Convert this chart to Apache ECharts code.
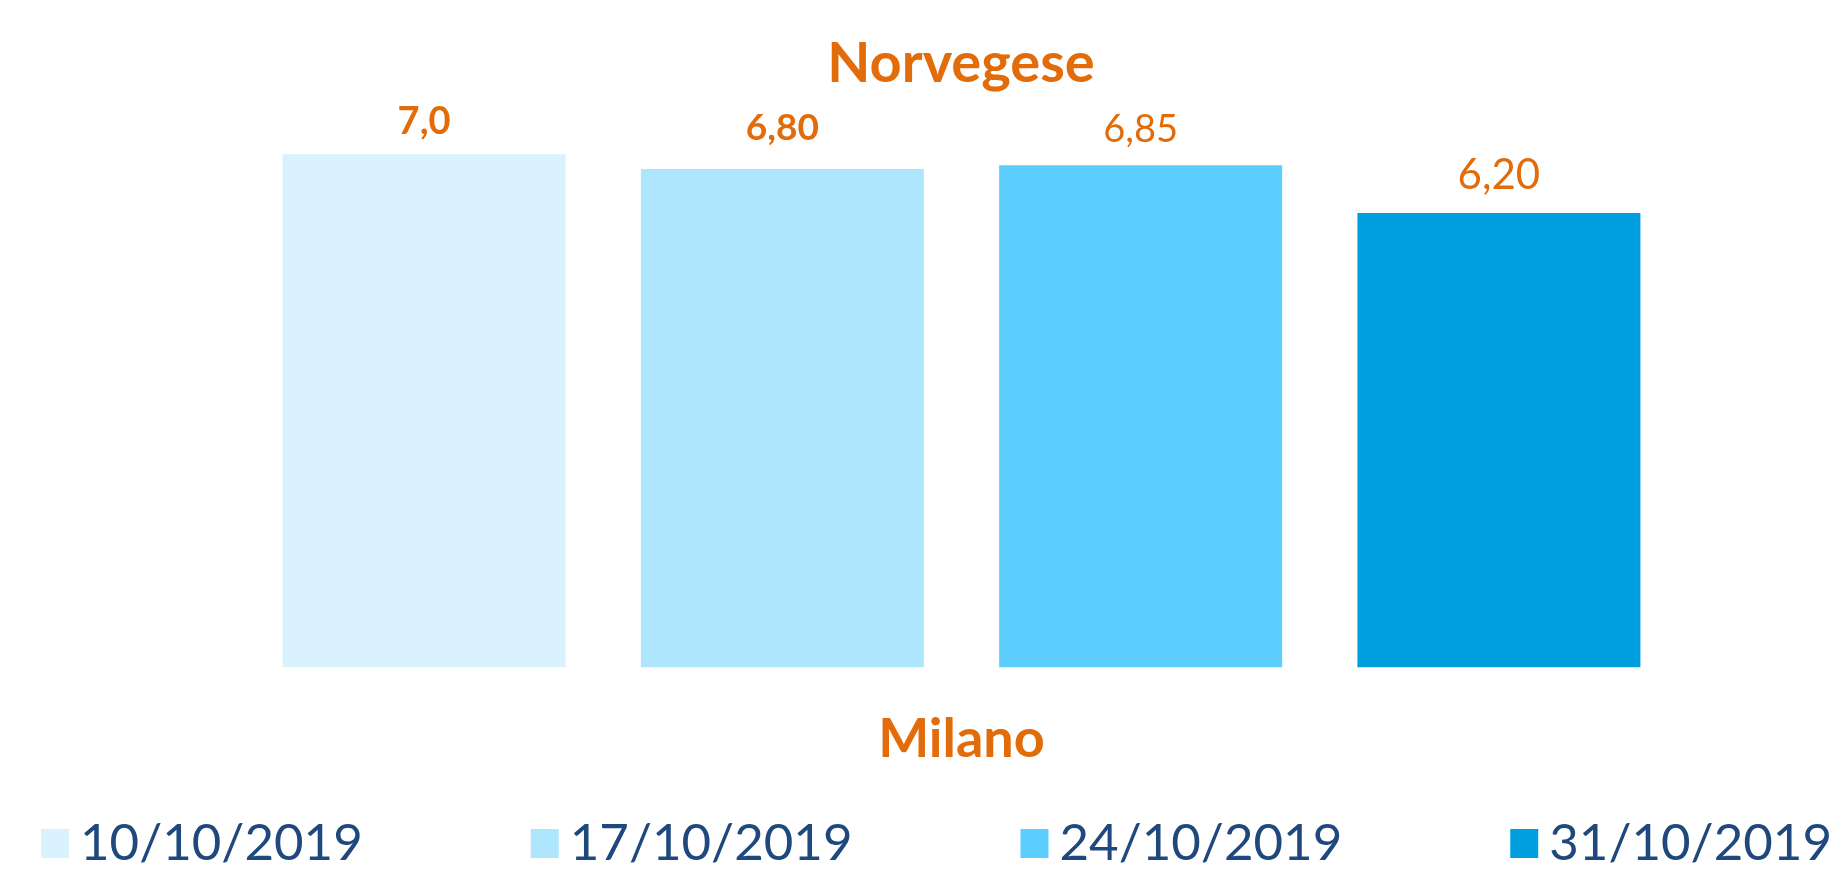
<!DOCTYPE html>
<html>
<head>
<meta charset="utf-8">
<script src="https://cdn.jsdelivr.net/npm/echarts@6/dist/echarts.min.js"></script>
<style>
  html, body { margin: 0; padding: 0; background: #fff; }
  #main { width: 1843px; height: 869px; }
</style>
</head>
<body>
<div id="main"></div>
<script>
// data
var categories = ['Milano'];
var seriesNames = ['10/10/2019', '17/10/2019', '24/10/2019', '31/10/2019'];
var seriesValues = [7.0, 6.80, 6.85, 6.20];
var valueLabels = ['7,0', '6,80', '6,85', '6,20'];

var barColors = ['#DAF2FD', '#AEE6FD', '#5BCEFE', '#00A0E0'];
// the labels in the original are not all the same style
var labelStyles = [
  { fontWeight: 'bold', fontSize: 38, distance: 14 },
  { fontWeight: 'bold', fontSize: 37, distance: 22 },
  { fontWeight: 'normal', fontSize: 38, distance: 17 },
  { fontWeight: 'normal', fontSize: 42, distance: 16 }
];

var orange = '#E36C0A';

document.addEventListener('DOMContentLoaded', function() {
    var chartDom = document.getElementById('main');
    var myChart = echarts.init(chartDom);

    var series = seriesNames.map(function(name, i) {
        return {
            name: name,
            type: 'bar',
            barWidth: 283,
            barGap: '26.6%',
            itemStyle: { color: barColors[i] },
            label: {
                show: true,
                position: 'top',
                distance: labelStyles[i].distance,
                color: orange,
                fontFamily: 'Lato',
                fontWeight: labelStyles[i].fontWeight,
                fontSize: labelStyles[i].fontSize,
                formatter: function() { return valueLabels[i]; }
            },
            data: [seriesValues[i]]
        };
    });

    var option = {
        animation: false,
        title: {
            text: 'Norvegese',
            left: 956,
            textAlign: 'center',
            top: 31,
            textStyle: {
                color: orange,
                fontFamily: 'Lato',
                fontWeight: 'bold',
                fontSize: 56
            }
        },
        legend: {
            type: 'plain',
            data: seriesNames,
            left: 36,
            top: 813,
            itemWidth: 28,
            itemHeight: 29,
            itemGap: 168,
            icon: 'rect',
            textStyle: {
                color: '#1F497D',
                fontFamily: 'Lato',
                fontSize: 51,
                padding: [0, 0, 0, 6]
            }
        },
        grid: {
            left: 80,
            right: 0,
            top: 154.3,
            bottom: 201.7
        },
        xAxis: {
            type: 'category',
            data: categories,
            axisLine: { show: false },
            axisTick: { show: false },
            axisLabel: {
                margin: 45,
                color: orange,
                fontFamily: 'Lato',
                fontWeight: 'bold',
                fontSize: 54
            }
        },
        yAxis: {
            type: 'value',
            min: 0,
            max: 7,
            show: false,
            splitLine: { show: false }
        },
        series: series
    };

    option && myChart.setOption(option);
});
</script>
</body>
</html>
